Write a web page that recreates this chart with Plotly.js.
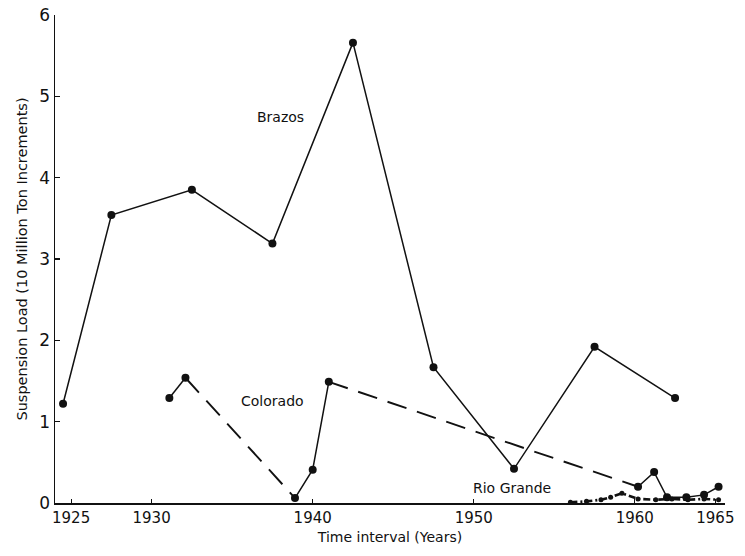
<!DOCTYPE html>
<html><head><meta charset="utf-8">
<script src="https://cdn.plot.ly/plotly-3.0.1.min.js"></script>
<style>html,body{margin:0;padding:0;background:#fff}#chart{width:745px;height:556px}</style>
</head><body><div id="chart"></div>
<script>
// ---- data ----
const brazosYears = [1924.5, 1927.5, 1932.5, 1937.5, 1942.5, 1947.5, 1952.5, 1957.5, 1962.5];
const brazosLoad  = [1.22, 3.54, 3.85, 3.19, 5.66, 1.67, 0.42, 1.92, 1.29];

const coloradoYears = [1931.1, 1932.1, 1938.9, 1940.0, 1941.0, 1960.2, 1961.2, 1962.0, 1963.2, 1964.3, 1965.2];
const coloradoLoad  = [1.29, 1.54, 0.06, 0.41, 1.49, 0.20, 0.38, 0.07, 0.07, 0.10, 0.20];
// line style of each Colorado segment (point i -> i+1)
const coloradoSegmentDashed = [false, true, false, false, true, false, false, false, false, false];

const rioGrandeYears = [1956.0, 1957.0, 1957.9, 1958.5, 1959.2, 1960.2, 1961.3, 1962.3, 1963.3, 1964.3, 1965.2];
const rioGrandeLoad  = [0.01, 0.02, 0.04, 0.07, 0.12, 0.05, 0.04, 0.05, 0.04, 0.05, 0.04];

const xTickYears  = [1925, 1930, 1940, 1950, 1960, 1965];
const xTickLabels = ["1925", "1930", "1940", "1950", "1960", "1965"];
const yTickValues = [0, 1, 2, 3, 4, 5, 6];
const yTickLabels = ["0", "1", "2", "3", "4", "5", "6"];

// ---- build traces ----
const ink = "#111";
const traces = [];

traces.push({
  x: brazosYears, y: brazosLoad, type: "scatter", mode: "lines+markers",
  line: {color: ink, width: 1.5}, marker: {color: ink, size: 8}, showlegend: false, hoverinfo: "x+y"
});

// Colorado: group consecutive segments of the same style
let start = 0;
for (let i = 1; i <= coloradoSegmentDashed.length; i++) {
  if (i === coloradoSegmentDashed.length || coloradoSegmentDashed[i] !== coloradoSegmentDashed[start]) {
    const dashed = coloradoSegmentDashed[start];
    traces.push({
      x: coloradoYears.slice(start, i + 1), y: coloradoLoad.slice(start, i + 1),
      type: "scatter", mode: "lines",
      line: {color: ink, width: dashed ? 1.9 : 1.5, dash: dashed ? "20px,11px" : "solid"},
      showlegend: false, hoverinfo: "skip"
    });
    start = i;
  }
}
traces.push({
  x: coloradoYears, y: coloradoLoad, type: "scatter", mode: "markers",
  marker: {color: ink, size: 8}, showlegend: false, hoverinfo: "x+y"
});

traces.push({
  x: rioGrandeYears, y: rioGrandeLoad, type: "scatter", mode: "lines+markers",
  line: {color: ink, width: 2.6, dash: "7px,3px,2px,3px"}, marker: {color: ink, size: 5},
  showlegend: false, hoverinfo: "x+y"
});

const font = {family: "DejaVu Sans, sans-serif", color: ink};

const layout = {
  width: 745, height: 556,
  margin: {l: 55, r: 20, t: 15, b: 53},
  paper_bgcolor: "#fff", plot_bgcolor: "#fff",
  showlegend: false,
  font: Object.assign({size: 14}, font),
  xaxis: {
    range: [1924.0, 1965.6],
    tickmode: "array", tickvals: xTickYears, ticktext: xTickLabels,
    ticks: "inside", ticklen: 4, tickwidth: 1, tickcolor: ink,
    showgrid: false, zeroline: false,
    showline: true, linecolor: ink, linewidth: 1.8,
    tickfont: Object.assign({size: 15}, font),
    title: {text: "Time interval (Years)", font: Object.assign({size: 14}, font), standoff: 6}
  },
  yaxis: {
    range: [0, 6],
    tickmode: "array", tickvals: yTickValues, ticktext: yTickLabels,
    ticks: "inside", ticklen: 5, tickwidth: 1.5, tickcolor: ink,
    showgrid: false, zeroline: false,
    showline: true, linecolor: ink, linewidth: 1.4,
    tickfont: Object.assign({size: 17}, font),
    title: {text: "Suspension Load (10 Million Ton Increments)", font: Object.assign({size: 14.5}, font), standoff: 8}
  },
  annotations: [
    {x: 1938.0, y: 4.75, text: "Brazos", showarrow: false, font: Object.assign({size: 14}, font)},
    {x: 1937.5, y: 1.25, text: "Colorado", showarrow: false, font: Object.assign({size: 14}, font)},
    {x: 1952.4, y: 0.19, text: "Rio Grande", showarrow: false, font: Object.assign({size: 14}, font)}
  ]
};

Plotly.newPlot("chart", traces, layout, {staticPlot: true, displayModeBar: false});
</script>
</body></html>
